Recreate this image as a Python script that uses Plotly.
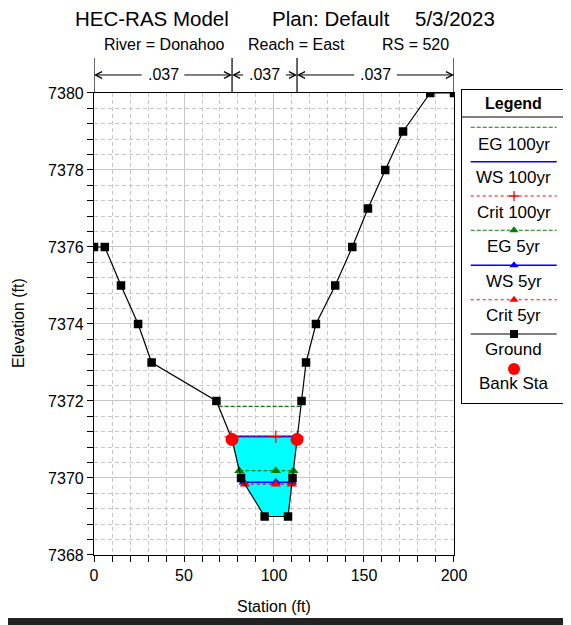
import plotly.graph_objects as go
import numpy as np

# ---------------- data ----------------
station = [0, 6, 15, 24.5, 32, 68, 76.7, 81.7, 94.8, 107.8, 110.3, 112.8,
           115.3, 117.8, 123.3, 134, 143.5, 152.2, 161.8, 171.7, 186.8, 200]
elevation = [7376, 7376, 7375, 7374, 7373, 7372, 7371.0, 7370, 7369, 7369, 7370, 7371.0,
             7372, 7373, 7374, 7375, 7376, 7377, 7378, 7379, 7380, 7380]
bank_sta = [76.7, 112.8]
bank_elev = [7371.0, 7371.0]
eg_100 = 7371.86
ws_100 = 7371.08
crit_100 = 7371.07
eg_5 = 7370.19
ws_5 = 7369.89
crit_5 = 7369.84
marker_mid_sta = 101.0
n_values = [".037", ".037", ".037"]
n_breaks = [0, 76.7, 112.8, 200]

FONT = "Arial, Liberation Sans, sans-serif"
GREEN = "#008000"
BLUE = "#0000ff"
RED = "#ff0000"


def extent(h):
    i0 = int(np.argmin(elevation))
    i = i0
    while i > 0 and elevation[i - 1] < h:
        i -= 1
    x1, y1, x2, y2 = station[i - 1], elevation[i - 1], station[i], elevation[i]
    xl = x1 + (h - y1) * (x2 - x1) / (y2 - y1)
    j = i0
    while j < len(station) - 1 and elevation[j + 1] < h:
        j += 1
    x1, y1, x2, y2 = station[j], elevation[j], station[j + 1], elevation[j + 1]
    xr = x1 + (h - y1) * (x2 - x1) / (y2 - y1)
    return xl, xr, i, j


fig = go.Figure()

# water fill (WS 100yr)
xl, xr, i, j = extent(ws_100)
fx = [xl] + station[i:j + 1] + [xr, xl]
fy = [ws_100] + elevation[i:j + 1] + [ws_100, ws_100]
fig.add_trace(go.Scatter(x=fx, y=fy, mode="lines", fill="toself",
                         fillcolor="#00ffff", line=dict(width=0), hoverinfo="skip",
                         showlegend=False))


def level_trace(h, color, dash, width, symbol=None, msize=9):
    a, b, _, _ = extent(h)
    fig.add_trace(go.Scatter(x=[a, b], y=[h, h], mode="lines",
                             line=dict(color=color, dash=dash, width=width),
                             showlegend=False))
    if symbol:
        fig.add_trace(go.Scatter(x=[a, marker_mid_sta, b], y=[h, h, h], mode="markers",
                                 marker=dict(symbol=symbol, color=color, size=msize,
                                             line=dict(width=0 if symbol != "cross-thin" else 1.3,
                                                       color=color)),
                                 showlegend=False))


level_trace(eg_100, GREEN, "4px,2px", 1.2)
level_trace(ws_100, BLUE, "solid", 1.6)
level_trace(crit_100, RED, "dot", 1.2, "cross-thin", 9)
level_trace(eg_5, GREEN, "4px,2px", 1.2, "triangle-up", 9)
level_trace(ws_5, BLUE, "solid", 1.6, "triangle-up", 9)
level_trace(crit_5, RED, "dot", 1.2, "triangle-up", 9)

# ground
fig.add_trace(go.Scatter(x=station, y=elevation, mode="lines", line=dict(color="black", width=1.2),
                         showlegend=False))
ground_pts = [k for k, s in enumerate(station) if s not in bank_sta]
fig.add_trace(go.Scatter(x=[station[k] for k in ground_pts], y=[elevation[k] for k in ground_pts],
                         mode="markers", marker=dict(symbol="square", color="black", size=8.5),
                         showlegend=False))
# bank stations
fig.add_trace(go.Scatter(x=bank_sta, y=bank_elev, mode="markers",
                         marker=dict(symbol="circle", color=RED, size=13), showlegend=False))

# ---------------- legend (manual box) ----------------
LX0, LX1 = 470.7, 556.7
LMID = 514
leg = [
    ("EG 100yr", 127.3, 144.3, GREEN, "4px,2px", None),
    ("WS 100yr", 161.7, 177.3, BLUE, "solid", None),
    ("Crit 100yr", 196.0, 212.0, RED, "dot", "cross-thin"),
    ("EG 5yr", 230.3, 246.7, GREEN, "4px,2px", "triangle-up"),
    ("WS 5yr", 265.3, 281.3, BLUE, "solid", "triangle-up"),
    ("Crit 5yr", 299.7, 315.3, RED, "dot", "triangle-up"),
    ("Ground", 334.0, 349.3, "black", "solid", "square"),
]
annotations = []
for name, ly, ty, col, dash, sym in leg:
    fig.add_trace(go.Scatter(x=[LX0, LX1], y=[ly, ly], mode="lines", xaxis="x2", yaxis="y2",
                             line=dict(color=col, dash=dash, width=1.4 if col == BLUE else 1.1),
                             showlegend=False, hoverinfo="skip"))
    if sym:
        fig.add_trace(go.Scatter(x=[LMID], y=[ly], mode="markers", xaxis="x2", yaxis="y2",
                                 marker=dict(symbol=sym, color=col,
                                             size={"square": 8, "cross-thin": 7}.get(sym, 8),
                                             line=dict(width=1.3 if sym == "cross-thin" else 0, color=col)),
                                 showlegend=False, hoverinfo="skip"))
    annotations.append(dict(x=LMID, y=ty, xref="x2", yref="y2", text=name, showarrow=False,
                            font=dict(family=FONT, size=17, color="black")))
fig.add_trace(go.Scatter(x=[LMID], y=[369], mode="markers", xaxis="x2", yaxis="y2",
                         marker=dict(symbol="circle", color=RED, size=12),
                         showlegend=False, hoverinfo="skip"))
annotations.append(dict(x=LMID, y=384, xref="x2", yref="y2", text="Bank Sta", showarrow=False,
                        font=dict(family=FONT, size=17, color="black")))
annotations.append(dict(x=LMID, y=103, xref="x2", yref="y2", text="<b>Legend</b>", showarrow=False,
                        font=dict(family=FONT, size=16, color="black")))

shapes = [
    dict(type="line", xref="x2", yref="y2", x0=462, x1=565, y0=117, y1=117,
         line=dict(color="black", width=1)),
    dict(type="rect", xref="paper", yref="paper", x0=-0.3, x1=1.1, y0=-0.1505, y1=-0.1355,
         fillcolor="#222222", line=dict(width=0)),
]

# ---------------- n-value bar ----------------
TOP = 0.99355
for b in n_breaks:
    shapes.append(dict(type="line", xref="x", yref="paper", x0=b, x1=b, y0=TOP, y1=1.0688,
                       line=dict(color="black", width=1.2)))
AY = 1.0323
for k, nv in enumerate(n_values):
    a, b = n_breaks[k], n_breaks[k + 1]
    m = (a + b) / 2
    annotations.append(dict(x=m, y=AY, xref="x", yref="paper", text=nv, showarrow=False,
                            yanchor="middle",
                            font=dict(family=FONT, size=16, color="black")))
    for head, tail in ((a, m - 11), (b, m + 11)):
        annotations.append(dict(x=head, y=AY, xref="x", yref="paper", ax=tail, ay=0,
                                axref="x", ayref="pixel", text="", showarrow=True,
                                arrowhead=5, arrowsize=1.3, arrowwidth=1, arrowcolor="black",
                                standoff=0, startstandoff=0))

# ---------------- titles ----------------
def txt(x, y, s, size, **kw):
    d = dict(x=x, y=y, xref="paper", yref="paper", text=s, showarrow=False,
             font=dict(family=FONT, size=size, color="black"), xanchor="left", yanchor="middle")
    d.update(kw)
    annotations.append(d)


txt(-0.0446, 1.1548, "HEC-RAS Model", 20.5)
txt(0.3737, 1.1548, "Plan: Default", 20.5)
txt(0.6773, 1.1548, "5/3/2023", 20.5)
txt(0.0163, 1.0968, "River = Donahoo", 16)
txt(0.3227, 1.0968, "Reach = East", 16)
txt(0.6072, 1.0968, "RS = 520", 16)
txt(0.3822, -0.1097, "Station (ft)", 16, xanchor="center")
txt(-0.1614, 0.4989, "Elevation (ft)", 16, xanchor="center", textangle=-90)

GRID = "#c8c8c8"
# page has an 8px body margin, so the figure is 8px smaller and margins shifted
fig.update_layout(
    width=563, height=617,
    margin=dict(l=86, r=6, t=82, b=70, autoexpand=False),
    paper_bgcolor="white", plot_bgcolor="white",
    font=dict(family=FONT, size=16, color="black"),
    showlegend=False,
    xaxis=dict(domain=[0, 0.7643], range=[0, 200], dtick=50, tick0=0, automargin=False,
               showgrid=True, gridcolor=GRID, gridwidth=1,
               showline=True, linecolor="black", linewidth=1.2, mirror=True,
               ticks="outside", ticklen=6, tickcolor="black", zeroline=False,
               tickfont=dict(family=FONT, size=16),
               minor=dict(dtick=10, tick0=0, showgrid=True, gridcolor=GRID, griddash="4px,3px",
                          ticks="outside", ticklen=6, tickcolor="black")),
    yaxis=dict(domain=[0, TOP], range=[7368, 7380], dtick=2, tick0=7368, automargin=False,
               showgrid=True, gridcolor=GRID, gridwidth=1,
               showline=True, linecolor="black", linewidth=1.2, mirror=True,
               ticks="outside", ticklen=6, tickcolor="black", zeroline=False,
               tickfont=dict(family=FONT, size=16), tickformat="d",
               minor=dict(dtick=0.4, tick0=7368, showgrid=True, gridcolor=GRID, griddash="4px,3px",
                          ticks="outside", ticklen=6, tickcolor="black")),
    xaxis2=dict(domain=[0.7813, 1.0], range=[462, 565], showgrid=False, zeroline=False,
                showticklabels=False, ticks="", showline=True, linecolor="black",
                linewidth=1, mirror=True, anchor="y2", automargin=False),
    yaxis2=dict(domain=[0.3269, 1.0], range=[403, 90], showgrid=False, zeroline=False,
                showticklabels=False, ticks="", showline=True, linecolor="black",
                linewidth=1, mirror=True, anchor="x2", automargin=False),
    annotations=annotations,
    shapes=shapes,
)

fig.write_html("out.html")
